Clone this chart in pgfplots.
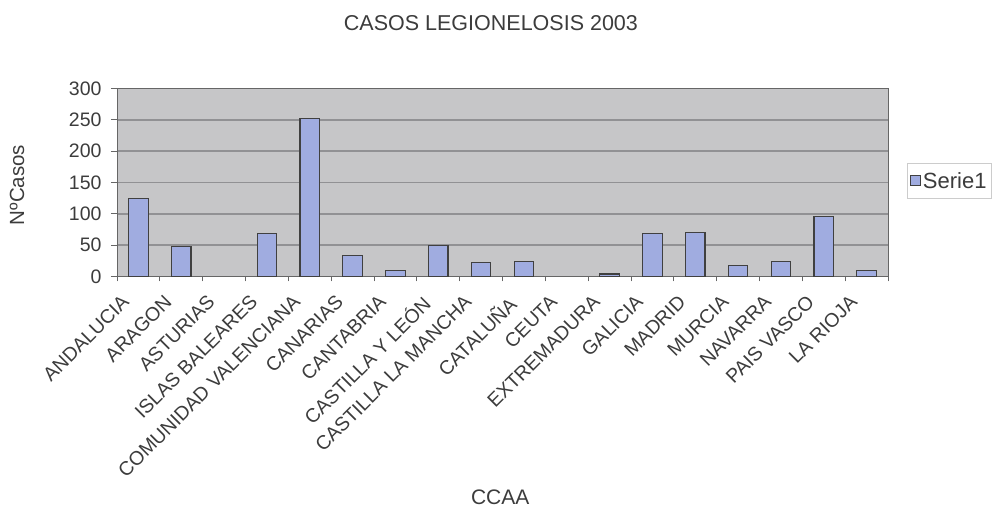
\documentclass[border=0pt]{standalone}
\usepackage{pgfplots}
\pgfplotsset{compat=1.18}
\usepackage{fontspec}
\setmainfont{Liberation Sans}
\definecolor{barfill}{RGB}{160,172,224}
\definecolor{plotbg}{RGB}{198,198,200}
\definecolor{gridc}{RGB}{145,145,148}
\definecolor{txt}{RGB}{60,60,60}
\begin{document}
\begin{tikzpicture}
\path[use as bounding box] (-117pt,-231.5pt) rectangle (877pt,276.5pt);
\begin{axis}[
  at={(0pt,0pt)}, anchor=south west,
  scale only axis, width=771pt, height=188pt,
  xmin=-0.5, xmax=17.5, ymin=0, ymax=300,
  axis background/.style={fill=plotbg},
  axis line style={draw=gray!80!black, line width=0.8pt},
  /pgf/number format/assume math mode=true,
  ytick={0,50,...,300},
  ymajorgrids,
  major grid style={draw=gridc, line width=1.6pt},
  tick align=outside,
  xtick pos=bottom, ytick pos=left,
  major tick length=6pt,
  minor tick length=5pt,
  tick style={draw=gray!80!black, line width=0.8pt},
  xtick={0,...,17},
  xticklabels={ANDALUCIA, ARAGON, ASTURIAS, ISLAS BALEARES, COMUNIDAD VALENCIANA, CANARIAS, CANTABRIA, CASTILLA Y LEÓN, CASTILLA LA MANCHA, CATALUÑA, CEUTA, EXTREMADURA, GALICIA, MADRID, MURCIA, NAVARRA, PAIS VASCO, LA RIOJA},
  major x tick style={draw=none},
  minor xtick={-0.5,0.5,...,17.5},
  minor x tick style={draw=gray!80!black, line width=0.8pt},
  xticklabel style={xshift=-18pt, yshift=-11pt, rotate=45, anchor=north east, inner sep=0pt, font=\fontsize{19.5}{19.5}\selectfont, text=txt},
  yticklabel style={xshift=-6pt, font=\fontsize{19.5}{19.5}\selectfont, text=txt},
  title={CASOS LEGIONELOSIS 2003},
  title style={at={(axis description cs:0.485,1.346)}, anchor=center, yshift=-6pt, font=\fontsize{21.5}{21.5}\selectfont, text=txt},
  xlabel={CCAA},
  xlabel style={at={(axis description cs:0.497,-1.173)}, anchor=center, font=\fontsize{21}{21}\selectfont, text=txt},
  ylabel={NºCasos},
  ylabel style={at={(axis description cs:-0.1297,0.487)}, anchor=center, font=\fontsize{20.5}{20.5}\selectfont, text=txt},
  legend style={at={(axis description cs:1.0246,0.604)}, anchor=north west, draw=gray!40, fill=white, font=\fontsize{22}{22}\selectfont, text=txt, inner xsep=3pt, inner ysep=7pt},
  legend image code/.code={\draw[fill=barfill, draw=black!75, line width=0.8pt] (0pt,-5pt) rectangle (10pt,5pt);},
]
\addplot[ybar, bar width=19.5pt, fill=barfill, draw=black!75, line width=1.1pt] coordinates {
  (0,125) (1,48) (3,68) (4,252) (5,33) (6,9) (7,50) (8,22) (9,24)
  (11,4) (12,68) (13,70) (14,18) (15,24) (16,96) (17,9)
};
\addlegendentry{Serie1}
\end{axis}
\end{tikzpicture}
\end{document}
